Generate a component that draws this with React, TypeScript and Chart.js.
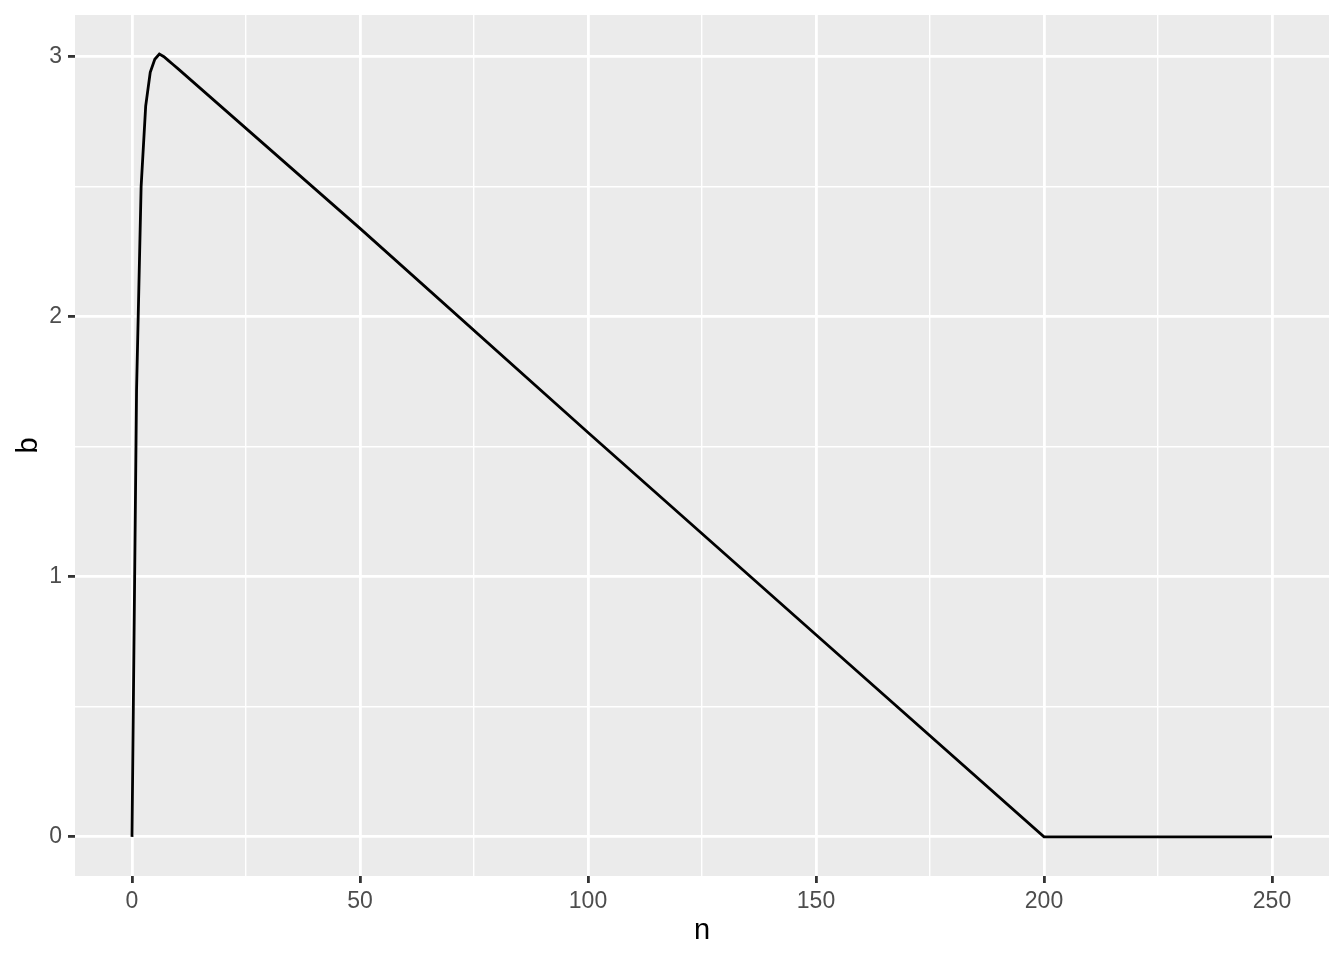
import React, { useEffect, useRef } from "react";
import { Chart, registerables } from "chart.js";

Chart.register(...registerables);

const nValues = [0, 1, 2, 3, 4, 5, 6, 7, 8, 9, 10, 50, 100, 150, 200, 250];
const bValues = [0, 1.72, 2.5, 2.81, 2.94, 2.99, 3.01, 3.0, 2.985, 2.97, 2.955, 2.34, 1.555, 0.777, 0, 0];

const xMajor = [0, 50, 100, 150, 200, 250];
const xMinor = [25, 75, 125, 175, 225];
const yMajor = [0, 1, 2, 3];
const yMinor = [0.5, 1.5, 2.5];

const FONT = "'Liberation Sans', Arial, Helvetica, sans-serif";

const panelBg = {
  id: "panelBg",
  beforeDraw(chart: any) {
    const { ctx, chartArea } = chart;
    ctx.save();
    ctx.fillStyle = "#EBEBEB";
    ctx.fillRect(chartArea.left, chartArea.top, chartArea.right - chartArea.left, chartArea.bottom - chartArea.top);
    ctx.restore();
  },
};

export default function App() {
  const ref = useRef<HTMLCanvasElement>(null);
  useEffect(() => {
    document.body.style.margin = "0";
    const data = nValues.map((n, i) => ({ x: n, y: bValues[i] }));
    const isMajorX = (v: number) => xMajor.includes(v);
    const isMajorY = (v: number) => yMajor.includes(v);
    const chart = new Chart(ref.current!, {
      type: "line",
      data: {
        datasets: [
          {
            data,
            borderColor: "#000000",
            borderWidth: 2.8,
            pointRadius: 0,
            tension: 0,
            fill: false,
          },
        ],
      },
      plugins: [panelBg],
      options: {
        animation: false,
        responsive: false,
        layout: { padding: { top: 15, right: 15, left: 0, bottom: 0 } },
        plugins: { legend: { display: false }, tooltip: { enabled: false } },
        scales: {
          x: {
            type: "linear",
            min: -12.5,
            max: 262.5,
            afterBuildTicks: (s: any) => {
              s.ticks = [...xMajor, ...xMinor].sort((a, b) => a - b).map((v) => ({ value: v }));
            },
            afterFit: (s: any) => {
              s.height = 84;
              s.paddingLeft = 0;
              s.paddingRight = 0;
            },
            border: { display: false },
            grid: {
              color: "#FFFFFF",
              lineWidth: (c: any) => (isMajorX(c.tick?.value) ? 2.8 : 1.4),
              tickLength: 7,
              tickColor: (c: any) => (isMajorX(c.tick?.value) ? "#333333" : "rgba(0,0,0,0)"),
              tickWidth: 2.8,
            },
            ticks: {
              autoSkip: false,
              maxRotation: 0,
              padding: 5,
              color: "#4D4D4D",
              font: { family: FONT, size: 23 },
              callback: (v: any) => (isMajorX(v) ? String(v) : ""),
            },
            title: {
              display: true,
              text: "n",
              color: "#000000",
              font: { family: FONT, size: 29 },
              padding: { top: 0, bottom: 12 },
            },
          },
          y: {
            type: "linear",
            min: -0.1505,
            max: 3.1605,
            afterBuildTicks: (s: any) => {
              s.ticks = [...yMajor, ...yMinor].sort((a, b) => a - b).map((v) => ({ value: v }));
            },
            afterFit: (s: any) => {
              s.width = 75;
              s.paddingTop = 0;
              s.paddingBottom = 0;
            },
            border: { display: false },
            grid: {
              color: "#FFFFFF",
              lineWidth: (c: any) => (isMajorY(c.tick?.value) ? 2.8 : 1.4),
              tickLength: 7,
              tickColor: (c: any) => (isMajorY(c.tick?.value) ? "#333333" : "rgba(0,0,0,0)"),
              tickWidth: 2.8,
            },
            ticks: {
              autoSkip: false,
              padding: 6,
              color: "#4D4D4D",
              font: { family: FONT, size: 23 },
              callback: (v: any) => (isMajorY(v) ? String(v) : ""),
            },
            title: {
              display: true,
              text: "b",
              color: "#000000",
              font: { family: FONT, size: 29 },
              padding: { top: 12, bottom: 0 },
            },
          },
        },
      },
    });
    return () => chart.destroy();
  }, []);
  return <canvas ref={ref} width={1344} height={960} style={{ display: "block" }} />;
}
